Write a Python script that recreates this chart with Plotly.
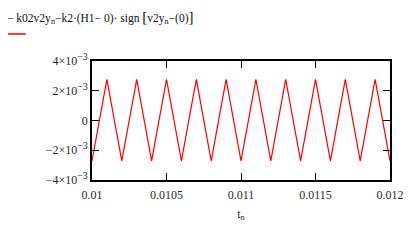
import plotly.graph_objects as go

# vertices of the triangle wave
t_vals = [0.0100, 0.0101, 0.0102, 0.0103, 0.0104, 0.0105, 0.0106, 0.0107,
          0.0108, 0.0109, 0.0110, 0.0111, 0.0112, 0.0113, 0.0114, 0.0115,
          0.0116, 0.0117, 0.0118, 0.0119, 0.0120]
y_vals = [-0.00272, 0.00276, -0.00272, 0.00276, -0.00272, 0.00276, -0.00272,
          0.00276, -0.00272, 0.00276, -0.00272, 0.00276, -0.00272, 0.00276,
          -0.00272, 0.00276, -0.00272, 0.00276, -0.00272, 0.00276, -0.00272]

x_ticks = [0.01, 0.0105, 0.011, 0.0115, 0.012]
x_ticktext = ["0.01", "0.0105", "0.011", "0.0115", "0.012"]
y_ticks = [-0.004, -0.002, 0, 0.002, 0.004]
SUP = "<sup><span style='font-size:10px'>\u22123</span></sup>"
y_ticktext = ["\u22124\u00d710" + SUP, "\u22122\u00d710" + SUP, "0",
              "2\u00d710" + SUP, "4\u00d710" + SUP]

legend_text = ("\u2212 k02v2y<sub>n</sub>\u2212k2\u00b7(H1\u2212 0)\u00b7 sign "
               "<span style='font-size:15px'>[</span>v2y<sub>n</sub>\u2212(0)"
               "<span style='font-size:15px'>]</span>")

fig = go.Figure()
fig.add_trace(go.Scatter(x=t_vals, y=y_vals, mode="lines",
                         line=dict(color="#ff0000", width=1.2), showlegend=False,
                         cliponaxis=False))

font = dict(family="Liberation Serif, Times New Roman, serif", size=12, color="#2a2a2a")

# page body has an 8px margin, so the figure is 8px smaller and offset
fig.update_layout(
    width=408, height=234,
    margin=dict(l=84, r=22, t=53, b=62),
    paper_bgcolor="white", plot_bgcolor="white",
    font=font,
    xaxis=dict(range=[0.01, 0.012], tickvals=x_ticks, ticktext=x_ticktext,
               showgrid=False, zeroline=False, showline=True, linecolor="black",
               linewidth=1.5, mirror="ticks", ticks="inside", ticklen=7,
               tickcolor="black", tickwidth=1, ticklabelstandoff=3,
               title=dict(text="t<sub>n</sub>", standoff=8,
                          font=dict(family="Liberation Serif, serif", size=12, color="#2a2a2a"))),
    yaxis=dict(range=[-0.004, 0.004], tickvals=y_ticks, ticktext=y_ticktext,
               showgrid=False, zeroline=False, showline=True, linecolor="black",
               linewidth=1.5, mirror="ticks", ticks="inside", ticklen=7,
               tickcolor="black", tickwidth=1),
)

fig.add_annotation(text=legend_text, xref="paper", yref="paper",
                   x=-88/302, y=1 + (61-17)/119, xanchor="left", yanchor="middle",
                   showarrow=False,
                   font=dict(family="Liberation Serif, serif", size=11.5, color="#111111"))
fig.add_shape(type="line", xref="paper", yref="paper",
              x0=-89/302, x1=-67/302, y0=1 + (61-34)/119, y1=1 + (61-34)/119,
              line=dict(color="#ff0000", width=1.5))

fig.write_html("out.html")
